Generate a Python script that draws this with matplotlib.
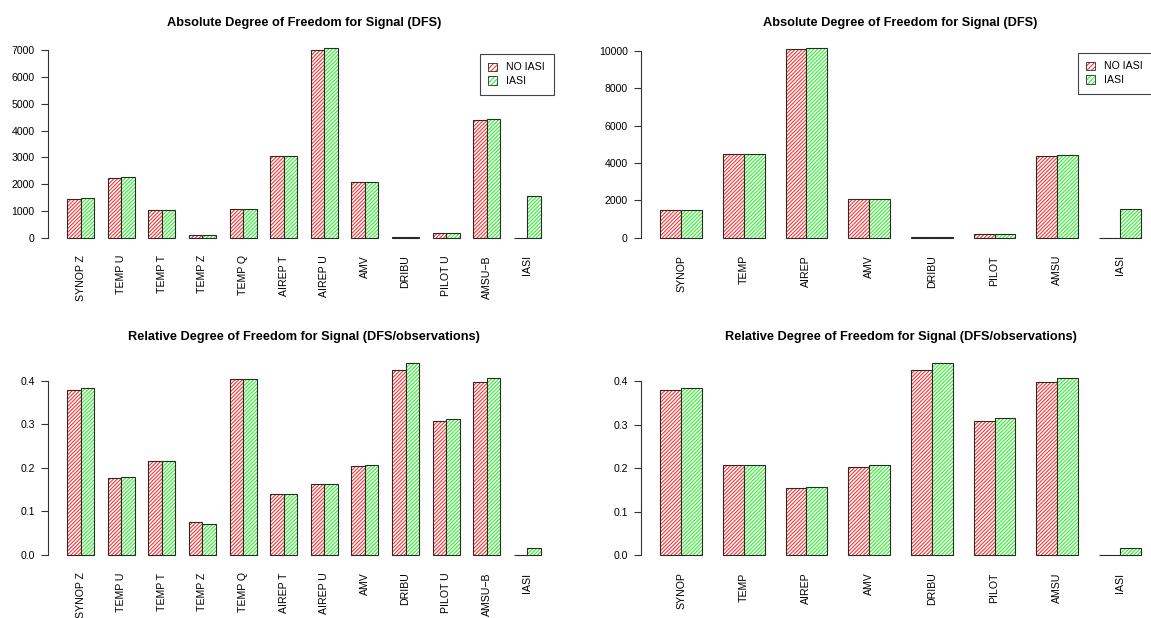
import matplotlib
matplotlib.use("Agg")
import matplotlib.pyplot as plt
from matplotlib.patches import Patch
from matplotlib.legend_handler import HandlerTuple

plt.rcParams['font.family'] = ['Liberation Sans', 'DejaVu Sans']
plt.rcParams['hatch.linewidth'] = 0.75

# observation types, split by variable (left column) and grouped (right column)
obs_split = ["SYNOP Z", "TEMP U", "TEMP T", "TEMP Z", "TEMP Q", "AIREP T",
             "AIREP U", "AMV", "DRIBU", "PILOT U", "AMSU\u2212B", "IASI"]
obs_group = ["SYNOP", "TEMP", "AIREP", "AMV", "DRIBU", "PILOT", "AMSU", "IASI"]

# absolute DFS
dfs_split_noiasi = [1460, 2240, 1020, 105, 1080, 3060, 7010, 2090, 30, 190, 4390, 0]
dfs_split_iasi = [1490, 2275, 1020, 100, 1060, 3060, 7080, 2090, 30, 190, 4430, 1540]
dfs_group_noiasi = [1460, 4450, 10070, 2080, 30, 190, 4380, 0]
dfs_group_iasi = [1480, 4450, 10140, 2095, 30, 190, 4435, 1530]

# DFS / number of observations
rel_split_noiasi = [0.378, 0.177, 0.216, 0.076, 0.405, 0.141, 0.162, 0.2035, 0.425, 0.308, 0.397, 0.0]
rel_split_iasi = [0.384, 0.179, 0.216, 0.0705, 0.403, 0.141, 0.1635, 0.206, 0.4415, 0.313, 0.406, 0.016]
rel_group_noiasi = [0.3785, 0.2065, 0.1545, 0.2035, 0.426, 0.3085, 0.3977, 0.0]
rel_group_iasi = [0.3846, 0.2065, 0.156, 0.206, 0.4422, 0.314, 0.4061, 0.0168]

abs_ticks_split = [0, 1000, 2000, 3000, 4000, 5000, 6000, 7000]
abs_ticks_group = [0, 2000, 4000, 6000, 8000, 10000]
rel_ticks = [0.0, 0.1, 0.2, 0.3, 0.4]

title_abs = "Absolute Degree of Freedom for Signal (DFS)"
title_rel = "Relative Degree of Freedom for Signal (DFS/observations)"

W, H = 1151, 618
HATCH = "/" * 9
FS = 7.6
RED = "#ff2a2a"
GREEN = "#22f022"


def box(x0, x1, y0, y1):
    # pixel box -> figure fraction [left, bottom, width, height]
    return [x0 / W, 1 - y1 / H, (x1 - x0) / W, (y1 - y0) / H]


def barplot(ax, labels, a, b, yticks, ylabels, title):
    n = len(labels)
    left_a = [1 + 3 * i for i in range(n)]
    left_b = [2 + 3 * i for i in range(n)]
    for lefts, vals, col in ((left_a, a, RED), (left_b, b, GREEN)):
        ax.bar(lefts, vals, width=1, align="edge", color="white",
               edgecolor=col, hatch=HATCH, linewidth=0)
        ax.bar(lefts, vals, width=1, align="edge", fill=False,
               edgecolor="#2a2a2a", linewidth=0.8)
    span = 3 * n - 1
    ax.set_xlim(1 - 0.04 * span, 3 * n + 0.04 * span)
    top = max(max(a), max(b))
    ax.set_ylim(-0.04 * top, 1.04 * top)
    ax.set_xticks([2 + 3 * i for i in range(n)])
    ax.set_xticklabels(labels, rotation=90, ha="center", va="top", fontsize=FS)
    ax.tick_params(axis="x", length=0, pad=7)
    ax.set_yticks(yticks)
    ax.set_yticklabels(ylabels, fontsize=FS)
    ax.tick_params(axis="y", length=5, width=0.8, pad=4.5, color="#333333")
    for s in ("top", "right", "bottom"):
        ax.spines[s].set_visible(False)
    ax.spines["left"].set_bounds(yticks[0], yticks[-1])
    ax.spines["left"].set_linewidth(0.8)
    ax.spines["left"].set_color("#333333")
    ax.set_title(title, fontsize=9.2, fontweight="bold", pad=10.5)


def legend(fig, x, y):
    handles = [
        (Patch(facecolor="white", edgecolor=RED, hatch="/" * 7, linewidth=0),
         Patch(fill=False, edgecolor="#2a2a2a", linewidth=0.6)),
        (Patch(facecolor="white", edgecolor=GREEN, hatch="/" * 7, linewidth=0),
         Patch(fill=False, edgecolor="#2a2a2a", linewidth=0.6)),
    ]
    leg = fig.legend(handles, ["NO IASI", "IASI"], loc="upper left",
                     bbox_to_anchor=(x / W, 1 - y / H), fontsize=FS,
                     handler_map={tuple: HandlerTuple(ndivide=1, pad=0)},
                     fancybox=False, framealpha=1, edgecolor="#444444",
                     borderpad=0.8, labelspacing=0.35, handlelength=0.8,
                     handleheight=0.8, handletextpad=0.9, borderaxespad=0)
    leg.get_frame().set_linewidth(0.8)


fig = plt.figure(figsize=(W / 100, H / 100), dpi=100)

ax1 = fig.add_axes(box(48, 560, 40.5, 245.3))
barplot(ax1, obs_split, dfs_split_noiasi, dfs_split_iasi, abs_ticks_split,
        [str(t) for t in abs_ticks_split], title_abs)

ax2 = fig.add_axes(box(641, 1160, 40.5, 245.3))
barplot(ax2, obs_group, dfs_group_noiasi, dfs_group_iasi, abs_ticks_group,
        [str(t) for t in abs_ticks_group], title_abs)

ax3 = fig.add_axes(box(48, 560, 355, 562.7))
barplot(ax3, obs_split, rel_split_noiasi, rel_split_iasi, rel_ticks,
        ["%.1f" % t for t in rel_ticks], title_rel)

ax4 = fig.add_axes(box(641, 1160, 355, 562.7))
barplot(ax4, obs_group, rel_group_noiasi, rel_group_iasi, rel_ticks,
        ["%.1f" % t for t in rel_ticks], title_rel)

legend(fig, 480, 54)
legend(fig, 1078, 53)

fig.savefig("out.png", dpi=100)
